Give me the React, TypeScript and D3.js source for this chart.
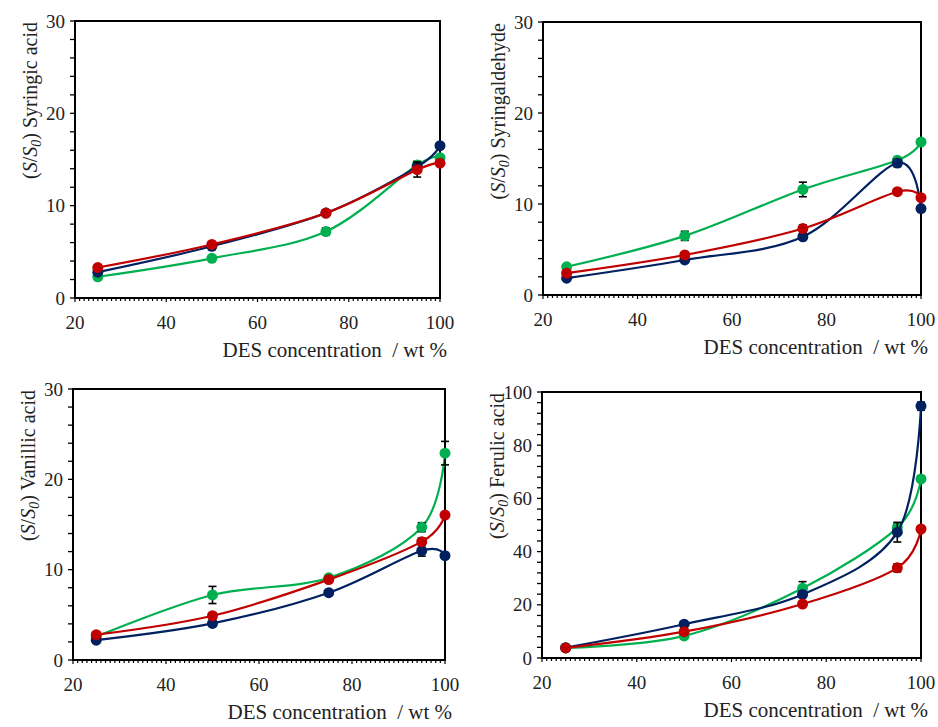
import React from "react";
import * as d3 from "d3";

// DES concentration (wt %)
const conc = [25, 50, 75, 95, 100];

// Syringic acid
const syringicBlue = [2.8, 5.6, 9.2, 14.2, 16.5];
const syringicRed = [3.3, 5.8, 9.2, 13.9, 14.6];
const syringicGreen = [2.3, 4.3, 7.2, 14.4, 15.2];
const syringicBlueErr = [0.3, 0.3, 0.3, 0.5, 0.3];
const syringicRedErr = [0.3, 0.3, 0.3, 0.8, 0.3];
const syringicGreenErr = [0.2, 0.2, 0.4, 0.4, 0.3];

// Syringaldehyde
const syringaldBlue = [1.85, 3.85, 6.4, 14.5, 9.5];
const syringaldRed = [2.4, 4.4, 7.3, 11.35, 10.7];
const syringaldGreen = [3.1, 6.5, 11.6, 14.8, 16.8];
const syringaldBlueErr = [0.2, 0.2, 0.3, 0.4, 0.3];
const syringaldRedErr = [0.2, 0.2, 0.4, 0.3, 0.3];
const syringaldGreenErr = [0.2, 0.5, 0.8, 0.3, 0.3];

// Vanillic acid
const vanillicBlue = [2.2, 4.05, 7.45, 12.1, 11.55];
const vanillicRed = [2.8, 4.9, 8.9, 13.1, 16.05];
const vanillicGreen = [2.6, 7.2, 9.1, 14.7, 22.9];
const vanillicBlueErr = [0.2, 0.2, 0.2, 0.6, 0.3];
const vanillicRedErr = [0.2, 0.3, 0.3, 0.4, 0.3];
const vanillicGreenErr = [0.2, 0.95, 0.3, 0.5, 1.3];

// Ferulic acid
const ferulicBlue = [3.9, 12.7, 23.9, 47.3, 94.7];
const ferulicRed = [3.8, 9.9, 20.3, 33.9, 48.5];
const ferulicGreen = [3.8, 8.3, 26.2, 49.0, 67.3];
const ferulicBlueErr = [0.5, 0.5, 1.0, 3.7, 1.5];
const ferulicRedErr = [0.5, 0.5, 0.8, 1.5, 1.0];
const ferulicGreenErr = [0.5, 1.0, 2.5, 1.5, 1.0];

const xTicks = [20, 40, 60, 80, 100];
const yTicks30 = [0, 10, 20, 30];
const yTicks100 = [0, 20, 40, 60, 80, 100];

const GREEN = "#00b050";
const BLUE = "#002060";
const RED = "#c00000";
const FONT = "Liberation Serif";

type Series = { values: number[]; err: number[]; color: string };

type PanelProps = {
  left: number;
  right: number;
  top: number;
  bottom: number;
  yMax: number;
  yTicks: number[];
  yMinorStep: number;
  name: string;
  series: Series[];
};

const Panel = ({ left, right, top, bottom, yMax, yTicks, yMinorStep, name, series }: PanelProps) => {
  const x = d3.scaleLinear().domain([20, 100]).range([left, right]);
  const y = d3.scaleLinear().domain([0, yMax]).range([bottom, top]);
  const line = d3
    .line<number>()
    .x((_, i) => x(conc[i]))
    .y((d) => y(d))
    .curve(d3.curveCatmullRom.alpha(0));

  const xMinor = d3.range(20, 101, 1);
  const yMinor = d3.range(0, yMax + 0.001, yMinorStep);

  return (
    <g>
      {/* y ticks */}
      {yMinor.map((v) => (
        <line key={"ym" + v} x1={left - 5} x2={left} y1={y(v)} y2={y(v)} stroke="#000" strokeWidth={1.3} />
      ))}
      {yTicks.map((v) => (
        <text key={"yt" + v} x={left - 10} y={y(v)} dy="0.35em" textAnchor="end" fontSize={19} fill="#222">
          {v}
        </text>
      ))}
      {/* x ticks */}
      {xMinor.map((v) => (
        <line
          key={"xm" + v}
          x1={x(v)}
          x2={x(v)}
          y1={bottom}
          y2={bottom + (v % 20 === 0 ? 4 : 3)}
          stroke="#000"
          strokeWidth={1.2}
        />
      ))}
      {xTicks.map((v) => (
        <text key={"xt" + v} x={x(v)} y={bottom + 31} textAnchor="middle" fontSize={19} fill="#222">
          {v}
        </text>
      ))}
      {/* frame */}
      <rect x={left} y={top} width={right - left} height={bottom - top} fill="none" stroke="#000" strokeWidth={2} />

      {/* axis titles */}
      <text x={right + 7} y={bottom + 59} textAnchor="end" fontSize={21} fill="#222" style={{ whiteSpace: "pre" }}>
        {"DES concentration  / wt %"}
      </text>
      <text
        transform={`translate(${left - 38},${top + 1}) rotate(-90)`}
        textAnchor="end"
        fontSize={20}
        fill="#222"
      >
        (<tspan fontStyle="italic">S</tspan>/<tspan fontStyle="italic">S</tspan>
        <tspan fontStyle="italic" fontSize={14} dy={4}>0</tspan>
        <tspan dy={-4}>) {name}</tspan>
      </text>

      {/* series */}
      {series.map((s, si) => (
        <g key={si}>
          <path d={line(s.values) ?? ""} fill="none" stroke={s.color} strokeWidth={2.2} />
          {s.values.map((v, i) => {
            const cx = x(conc[i]);
            const y1 = y(v - s.err[i]);
            const y2 = y(v + s.err[i]);
            return (
              <g key={"e" + i} stroke="#000" strokeWidth={1.6}>
                <line x1={cx} x2={cx} y1={y1} y2={y2} />
                <line x1={cx - 4} x2={cx + 4} y1={y1} y2={y1} />
                <line x1={cx - 4} x2={cx + 4} y1={y2} y2={y2} />
              </g>
            );
          })}
          {s.values.map((v, i) => (
            <circle key={"c" + i} cx={x(conc[i])} cy={y(v)} r={5.5} fill={s.color} />
          ))}
        </g>
      ))}
    </g>
  );
};

export default function App() {
  return (
    <div style={{ position: "absolute", left: 0, top: 0, width: 938, height: 727, background: "#fff" }}>
      <svg width={938} height={727} fontFamily={FONT} style={{ display: "block", fontFamily: FONT }}>
        <Panel
          left={75}
          right={440}
          top={21}
          bottom={298}
          yMax={30}
          yTicks={yTicks30}
          yMinorStep={2}
          name="Syringic acid"
          series={[
            { values: syringicGreen, err: syringicGreenErr, color: GREEN },
            { values: syringicBlue, err: syringicBlueErr, color: BLUE },
            { values: syringicRed, err: syringicRedErr, color: RED },
          ]}
        />
        <Panel
          left={543}
          right={921}
          top={22}
          bottom={295}
          yMax={30}
          yTicks={yTicks30}
          yMinorStep={2}
          name="Syringaldehyde"
          series={[
            { values: syringaldGreen, err: syringaldGreenErr, color: GREEN },
            { values: syringaldBlue, err: syringaldBlueErr, color: BLUE },
            { values: syringaldRed, err: syringaldRedErr, color: RED },
          ]}
        />
        <Panel
          left={73}
          right={445}
          top={389}
          bottom={660}
          yMax={30}
          yTicks={yTicks30}
          yMinorStep={2}
          name="Vanillic acid"
          series={[
            { values: vanillicGreen, err: vanillicGreenErr, color: GREEN },
            { values: vanillicBlue, err: vanillicBlueErr, color: BLUE },
            { values: vanillicRed, err: vanillicRedErr, color: RED },
          ]}
        />
        <Panel
          left={542}
          right={921}
          top={392}
          bottom={658}
          yMax={100}
          yTicks={yTicks100}
          yMinorStep={4}
          name="Ferulic acid"
          series={[
            { values: ferulicGreen, err: ferulicGreenErr, color: GREEN },
            { values: ferulicBlue, err: ferulicBlueErr, color: BLUE },
            { values: ferulicRed, err: ferulicRedErr, color: RED },
          ]}
        />
      </svg>
    </div>
  );
}
